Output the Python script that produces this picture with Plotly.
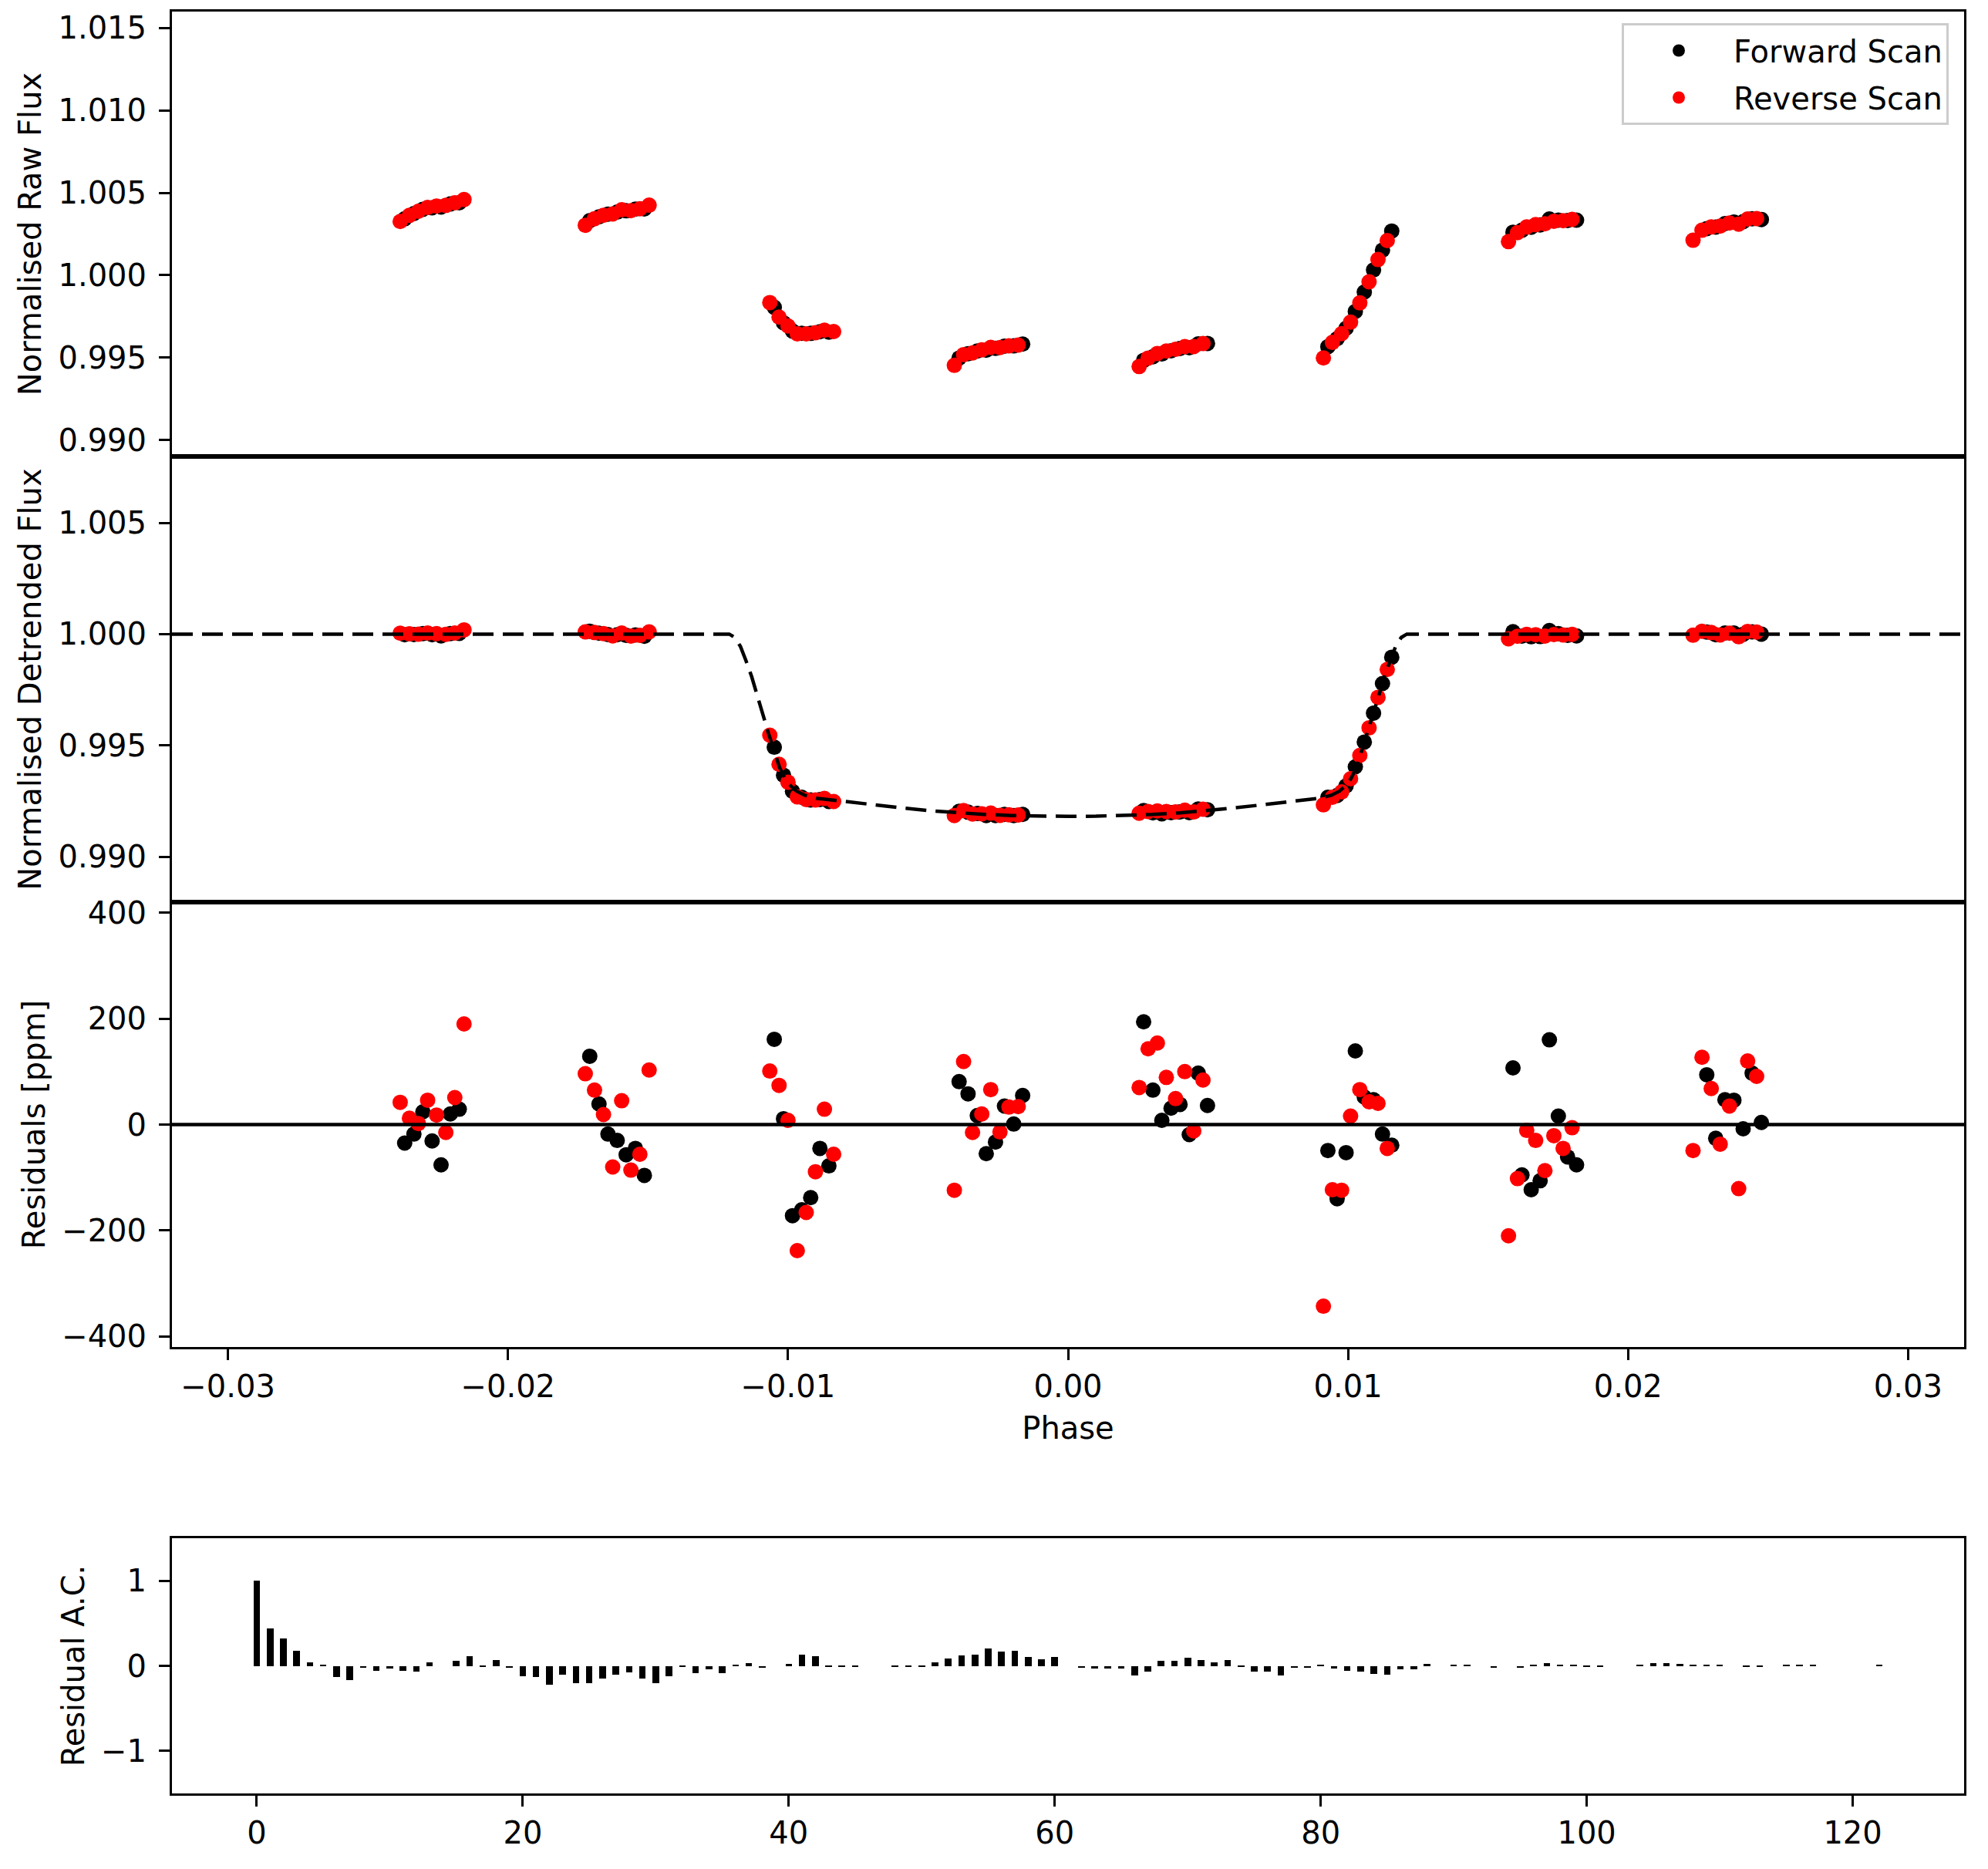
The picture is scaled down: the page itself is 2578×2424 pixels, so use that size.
import plotly.graph_objects as go

# the page has an 8 px body margin, so the figure is drawn 8 px in from the window edge
PAGE_W, PAGE_H, PAD = 2578, 2424, 8
W, H = PAGE_W - 2 * PAD, PAGE_H - 2 * PAD
FONT = "DejaVu Sans"

# forward scan (black) points
fwd_phase = [
    -0.02369, -0.02336, -0.02304, -0.02271, -0.02239, -0.02206, -0.02174,
    -0.01708, -0.01675, -0.01643, -0.01610, -0.01578, -0.01545, -0.01513,
    -0.01049, -0.01016, -0.00984, -0.00951, -0.00919, -0.00886, -0.00854,
    -0.00389, -0.00357, -0.00324, -0.00292, -0.00259, -0.00227, -0.00194, -0.00162,
    0.00270, 0.00303, 0.00335, 0.00368, 0.00400, 0.00433, 0.00465, 0.00498,
    0.00928, 0.00961, 0.00993, 0.01026, 0.01058, 0.01091, 0.01123, 0.01156,
    0.01589, 0.01621, 0.01654, 0.01686, 0.01719, 0.01751, 0.01784, 0.01816,
    0.02281, 0.02313, 0.02346, 0.02378, 0.02411, 0.02443, 0.02476,
]
fwd_raw = [
    1.00342, 1.00374, 1.00400, 1.00409, 1.00414, 1.00432, 1.00440,
    1.00331, 1.00354, 1.00370, 1.00383, 1.00391, 1.00401, 1.00402,
    0.99805, 0.99711, 0.99661, 0.99648, 0.99647, 0.99657, 0.99655,
    0.99497, 0.99524, 0.99540, 0.99545, 0.99556, 0.99569, 0.99571, 0.99582,
    0.99483, 0.99505, 0.99522, 0.99541, 0.99555, 0.99560, 0.99583, 0.99586,
    0.99566, 0.99615, 0.99678, 0.99780, 0.99898, 1.00032, 1.00152, 1.00268,
    1.00261, 1.00273, 1.00291, 1.00305, 1.00341, 1.00334, 1.00332, 1.00334,
    1.00283, 1.00292, 1.00313, 1.00323, 1.00325, 1.00342, 1.00338,
]
fwd_detr = [
    0.99997, 0.99998, 1.00002, 0.99997, 0.99992, 1.00002, 1.00003,
    1.00013, 1.00004, 0.99998, 0.99997, 0.99994, 0.99996, 0.99990,
    0.99492, 0.99366, 0.99294, 0.99267, 0.99255, 0.99257, 0.99248,
    0.99204, 0.99200, 0.99194, 0.99185, 0.99185, 0.99190, 0.99185, 0.99190,
    0.99207, 0.99197, 0.99193, 0.99198, 0.99201, 0.99198, 0.99214, 0.99211,
    0.99267, 0.99275, 0.99318, 0.99404, 0.99515, 0.99645, 0.99778, 0.99896,
    1.00011, 0.99991, 0.99988, 0.99989, 1.00016, 1.00002, 0.99994, 0.99992,
    1.00009, 0.99997, 1.00005, 1.00005, 0.99999, 1.00010, 1.00000,
]
fwd_resid = [
    -35, -18, 24, -31, -76, 20, 29,
    129, 39, -18, -30, -57, -45, -96,
    161, 11, -172, -161, -138, -45, -78,
    81, 58, 17, -55, -33, 35, 1, 55,
    194, 65, 8, 31, 38, -19, 97, 36,
    -49, -140, -53, 139, 52, 47, -18, -39,
    107, -95, -123, -106, 160, 16, -61, -76,
    94, -26, 47, 46, -8, 97, 4,
]

# reverse scan (red) points
rev_phase = [
    -0.02385, -0.02352, -0.02320, -0.02287, -0.02255, -0.02222, -0.02190, -0.02157,
    -0.01724, -0.01691, -0.01659, -0.01626, -0.01594, -0.01561, -0.01529, -0.01496,
    -0.01065, -0.01032, -0.01000, -0.00967, -0.00935, -0.00902, -0.00870, -0.00837,
    -0.00406, -0.00373, -0.00341, -0.00308, -0.00276, -0.00243, -0.00211, -0.00178,
    0.00254, 0.00286, 0.00319, 0.00351, 0.00384, 0.00417, 0.00449, 0.00482,
    0.00912, 0.00944, 0.00977, 0.01009, 0.01042, 0.01075, 0.01107, 0.01140,
    0.01573, 0.01605, 0.01638, 0.01670, 0.01703, 0.01735, 0.01768, 0.01800,
    0.02232, 0.02264, 0.02297, 0.02329, 0.02362, 0.02395, 0.02427, 0.02459,
]
rev_raw = [
    1.00326, 1.00363, 1.00388, 1.00411, 1.00420, 1.00424, 1.00439, 1.00459,
    1.00303, 1.00343, 1.00364, 1.00372, 1.00397, 1.00392, 1.00403, 1.00425,
    0.99834, 0.99746, 0.99692, 0.99644, 0.99644, 0.99651, 0.99666, 0.99658,
    0.99453, 0.99518, 0.99528, 0.99547, 0.99562, 0.99561, 0.99571, 0.99576,
    0.99446, 0.99497, 0.99525, 0.99540, 0.99550, 0.99567, 0.99567, 0.99585,
    0.99498, 0.99592, 0.99645, 0.99715, 0.99832, 0.99960, 1.00095, 1.00210,
    1.00204, 1.00258, 1.00293, 1.00307, 1.00312, 1.00327, 1.00331, 1.00339,
    1.00212, 1.00273, 1.00293, 1.00298, 1.00317, 1.00310, 1.00341, 1.00344,
]
rev_detr = [
    1.00004, 1.00001, 1.00000, 1.00005, 1.00002, 0.99999, 1.00005, 1.00019,
    1.00010, 1.00007, 1.00002, 0.99992, 1.00005, 0.99991, 0.99994, 1.00010,
    0.99546, 0.99415, 0.99335, 0.99269, 0.99257, 0.99255, 0.99262, 0.99248,
    0.99185, 0.99207, 0.99192, 0.99193, 0.99196, 0.99186, 0.99188, 0.99187,
    0.99195, 0.99203, 0.99206, 0.99203, 0.99201, 0.99209, 0.99201, 0.99213,
    0.99233, 0.99267, 0.99291, 0.99350, 0.99455, 0.99579, 0.99716, 0.99841,
    0.99979, 0.99990, 0.99999, 0.99997, 0.99991, 0.99998, 0.99996, 0.99999,
    0.99995, 1.00013, 1.00007, 0.99996, 1.00004, 0.99988, 1.00012, 1.00009,
]
rev_resid = [
    42, 12, 2, 46, 18, -15, 51, 190,
    96, 65, 19, -80, 45, -86, -56, 103,
    101, 74, 8, -238, -166, -89, 29, -56,
    -124, 119, -15, 20, 66, -14, 33, 34,
    70, 143, 154, 89, 49, 100, -12, 84,
    -343, -123, -124, 16, 66, 43, 40, -45,
    -210, -102, -11, -30, -87, -21, -45, -6,
    -49, 127, 68, -37, 35, -121, 120, 91,
]

# transit model (dashed)
model_phase = [
    -0.032, -0.0121, -0.0119, -0.0117, -0.0115, -0.0113, -0.0111, -0.0109, -0.0107,
    -0.0105, -0.0103, -0.0101, -0.0099, -0.0097, -0.0094, -0.0090, -0.0080, -0.0070,
    -0.0060, -0.0050, -0.0040, -0.0030, -0.0020, -0.0010, 0.0,
    0.0010, 0.0020, 0.0030, 0.0040, 0.0050, 0.0060, 0.0070, 0.0080, 0.0090, 0.0094,
    0.0097, 0.0099, 0.0101, 0.0103, 0.0105, 0.0107, 0.0109, 0.0111, 0.0113, 0.0115,
    0.0117, 0.0119, 0.0121, 0.032,
]
model_flux = [
    1.00000, 1.00000, 0.99985, 0.99945, 0.99880, 0.99810, 0.99725, 0.99635, 0.99555,
    0.99480, 0.99400, 0.99350, 0.99318, 0.99295, 0.99276, 0.99263, 0.99248, 0.99234,
    0.99220, 0.99207, 0.99197, 0.99190, 0.99185, 0.99182, 0.99181,
    0.99182, 0.99185, 0.99190, 0.99197, 0.99207, 0.99220, 0.99234, 0.99248, 0.99263, 0.99276,
    0.99295, 0.99318, 0.99350, 0.99400, 0.99480, 0.99555, 0.99635, 0.99725, 0.99810, 0.99880,
    0.99945, 0.99985, 1.00000, 1.00000,
]

# residual autocorrelation, lags 0..122
ac_values = [
    1.0, 0.44, 0.32, 0.18, 0.04, 0.015, -0.13, -0.17, -0.02, -0.06,
    -0.035, -0.06, -0.07, 0.04, 0.0, 0.06, 0.115, -0.005, 0.07, -0.025,
    -0.12, -0.13, -0.225, -0.10, -0.2, -0.2, -0.145, -0.10, -0.08, -0.145,
    -0.2, -0.12, -0.01, -0.085, -0.04, -0.085, 0.005, 0.03, -0.025, 0.0,
    0.02, 0.13, 0.11, -0.006, -0.006, -0.006, 0.0, 0.0, -0.015, -0.008,
    -0.008, 0.045, 0.085, 0.12, 0.127, 0.2, 0.164, 0.173, 0.1, 0.073,
    0.1, 0.0, -0.024, -0.033, -0.033, -0.033, -0.109, -0.07, 0.055, 0.055,
    0.091, 0.064, 0.045, 0.064, -0.005, -0.064, -0.064, -0.109, -0.024, -0.024,
    0.009, -0.033, -0.055, -0.064, -0.091, -0.1, -0.045, -0.045, 0.027, 0.0,
    0.018, 0.018, 0.0, -0.024, 0.0, -0.024, 0.018, 0.036, 0.018, 0.006,
    -0.005, -0.015, 0.0, 0.0, 0.018, 0.036, 0.036, 0.027, 0.018, 0.018,
    0.008, 0.0, -0.005, -0.005, 0.0, 0.005, 0.005, 0.005, 0.0, 0.0,
    0.0, 0.0, 0.005,
]
ac_lags = list(range(len(ac_values)))

phase_ticks = [-0.03, -0.02, -0.01, 0.0, 0.01, 0.02, 0.03]
phase_labels = ["\u22120.03", "\u22120.02", "\u22120.01", "0.00", "0.01", "0.02", "0.03"]
raw_ticks = [0.990, 0.995, 1.000, 1.005, 1.010, 1.015]
detr_ticks = [0.990, 0.995, 1.000, 1.005]
resid_ticks = [-400, -200, 0, 200, 400]
resid_labels = ["\u2212400", "\u2212200", "0", "200", "400"]
ac_ticks = [-1, 0, 1]
ac_labels = ["\u22121", "0", "1"]
lag_ticks = [0, 20, 40, 60, 80, 100, 120]


# positions below are window pixels, converted to paper fractions
def px_x(a, b):
    return [(a - PAD) / W, (b - PAD) / W]


def px_y(top, bottom):
    return [1 - (bottom - PAD) / H, 1 - (top - PAD) / H]


fig = go.Figure()

# panel 1: raw flux
fig.add_trace(go.Scatter(x=fwd_phase, y=fwd_raw, mode="markers", name="Forward Scan",
                         legendgroup="fwd",
                         marker=dict(color="black", size=20), xaxis="x", yaxis="y"))
fig.add_trace(go.Scatter(x=rev_phase, y=rev_raw, mode="markers", name="Reverse Scan",
                         legendgroup="rev",
                         marker=dict(color="red", size=20), xaxis="x", yaxis="y"))

# panel 2: detrended flux + model
fig.add_trace(go.Scatter(x=fwd_phase, y=fwd_detr, mode="markers", showlegend=False,
                         marker=dict(color="black", size=20), xaxis="x2", yaxis="y2"))
fig.add_trace(go.Scatter(x=rev_phase, y=rev_detr, mode="markers", showlegend=False,
                         marker=dict(color="red", size=20), xaxis="x2", yaxis="y2"))
fig.add_trace(go.Scatter(x=model_phase, y=model_flux, mode="lines", showlegend=False,
                         line=dict(color="black", width=4.5, dash="27px,12px"),
                         xaxis="x2", yaxis="y2"))

# panel 3: residuals
fig.add_trace(go.Scatter(x=fwd_phase, y=fwd_resid, mode="markers", showlegend=False,
                         marker=dict(color="black", size=20), xaxis="x3", yaxis="y3"))
fig.add_trace(go.Scatter(x=rev_phase, y=rev_resid, mode="markers", showlegend=False,
                         marker=dict(color="red", size=20), xaxis="x3", yaxis="y3"))

# panel 4: autocorrelation
fig.add_trace(go.Bar(x=ac_lags, y=ac_values, width=0.5, showlegend=False,
                     marker=dict(color="black", line=dict(width=0)),
                     xaxis="x4", yaxis="y4"))

axis_common = dict(
    showline=True, linecolor="black", linewidth=3, mirror=True,
    showgrid=False, zeroline=False,
    ticks="outside", ticklen=14, tickwidth=3, tickcolor="black",
    tickfont=dict(family=FONT, size=40, color="black"),
    title_font=dict(family=FONT, size=40, color="black"),
    automargin=False,
)
yaxis_common = dict(axis_common, ticklabelstandoff=8)

xdom = px_x(223, 2547)

fig.update_layout(
    width=W, height=H,
    margin=dict(l=0, r=0, t=0, b=0),
    plot_bgcolor="white", paper_bgcolor="white",
    font=dict(family=FONT, size=40, color="black"),
    bargap=0,
    legend=dict(
        x=(2527 - PAD) / W, xanchor="right", y=1 - (30 - PAD) / H, yanchor="top",
        bgcolor="rgba(255,255,255,0.8)", bordercolor="#cccccc", borderwidth=3,
        font=dict(family=FONT, size=40, color="black"),
        traceorder="grouped", tracegroupgap=6, itemwidth=132,
    ),
    xaxis=dict(axis_common, domain=xdom, anchor="y", range=[-0.032, 0.032],
               matches="x3", showticklabels=False, ticks=""),
    yaxis=dict(yaxis_common, domain=px_y(15, 592), anchor="x", range=[0.989, 1.016],
               tickvals=raw_ticks, ticktext=[f"{v:.3f}" for v in raw_ticks],
               title=dict(text="Normalised Raw Flux", standoff=10)),
    xaxis2=dict(axis_common, domain=xdom, anchor="y2", range=[-0.032, 0.032],
                matches="x3", showticklabels=False, ticks=""),
    yaxis2=dict(yaxis_common, domain=px_y(592, 1170), anchor="x2", range=[0.98796, 1.00798],
                tickvals=detr_ticks, ticktext=[f"{v:.3f}" for v in detr_ticks],
                title=dict(text="Normalised Detrended Flux", standoff=10)),
    xaxis3=dict(axis_common, domain=xdom, anchor="y3", range=[-0.032, 0.032],
                tickvals=phase_ticks, ticktext=phase_labels,
                title=dict(text="Phase", standoff=18)),
    yaxis3=dict(yaxis_common, domain=px_y(1170, 1747), anchor="x3", range=[-420, 420],
                tickvals=resid_ticks, ticktext=resid_labels,
                title=dict(text="Residuals [ppm]", standoff=10)),
    xaxis4=dict(axis_common, domain=xdom, anchor="y4", range=[-6.375, 128.375],
                tickvals=lag_ticks),
    yaxis4=dict(yaxis_common, domain=px_y(1995, 2326), anchor="x4", range=[-1.5, 1.5],
                tickvals=ac_ticks, ticktext=ac_labels,
                title=dict(text="Residual A.C.", standoff=10)),
    shapes=[dict(type="line", xref="x3 domain", x0=0, x1=1, yref="y3", y0=0, y1=0,
                 line=dict(color="black", width=4.5), layer="above")],
)

fig.write_html("out.html")
